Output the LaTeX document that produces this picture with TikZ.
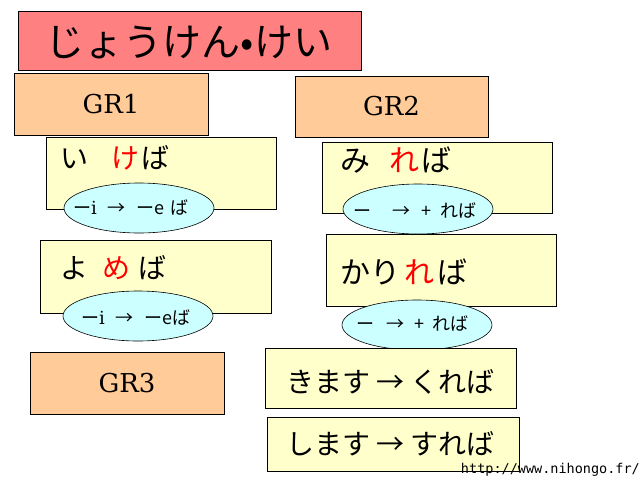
\documentclass[tikz,border=0pt]{standalone}
\usepackage{fontspec}
\usetikzlibrary{shapes.geometric}
\setmainfont{DejaVu Serif}
\newfontfamily\jp{Noto Sans CJK JP}
\newfontfamily\urlfont{DejaVu Sans Mono}
\definecolor{titlec}{HTML}{FF8080}
\definecolor{grc}{HTML}{FFCC99}
\definecolor{yelc}{HTML}{FFFFCC}
\definecolor{cyanc}{HTML}{CCFFFF}
\begin{document}
\begin{tikzpicture}[x=1pt,y=-1pt,
  box/.style={draw=black,line width=0.9pt,inner sep=0pt,rectangle},
  titlebox/.style={box,fill=titlec},
  grbox/.style={box,fill=grc},
  ybox/.style={box,fill=yelc},
  oval/.style={draw=black,line width=0.6pt,ellipse,fill=cyanc,minimum width=150pt,minimum height=50pt,inner sep=0pt},
  big/.style={font=\jp\fontsize{28}{30}\selectfont,anchor=west,inner sep=0pt},
  bigger/.style={font=\jp\fontsize{30}{32}\selectfont,anchor=west,inner sep=0pt},
  small/.style={font=\jp\fontsize{18}{20}\selectfont,anchor=west,inner sep=0pt},
  grtext/.style={font=\fontsize{26}{28}\selectfont,inner sep=0pt}]
\useasboundingbox (0,0) rectangle (640,480);
% title
\node[titlebox,minimum width=343pt,minimum height=59pt] (title) at (189.5,40.5) {};
\node[font=\jp\fontsize{39}{40}\selectfont,inner sep=0pt] (titlet) at (189,42) {じょうけん•けい};
% group boxes
\node[grbox,minimum width=194pt,minimum height=62pt] (gr1) at (111,104) {};
\node[grtext] (gr1t) at (111,104) {GR1};
\node[grbox,minimum width=193pt,minimum height=61pt] (gr2) at (391.5,106.5) {};
\node[grtext] (gr2t) at (391.5,106.5) {GR2};
\node[grbox,minimum width=194pt,minimum height=62pt] (gr3) at (127,383) {};
\node[grtext] (gr3t) at (127,383) {GR3};
% GR1 examples
\node[ybox,minimum width=230pt,minimum height=72pt] (b1) at (161,173) {};
\node[big] (b1t) at (60,158) {い\hspace{23pt}{\color{red}け}\hspace{2pt}ば};
\node[ybox,minimum width=231pt,minimum height=73pt] (b2) at (155.5,276.5) {};
\node[big] (b2t) at (60,268) {よ\hspace{14pt}{\color{red}め}\hspace{8pt}ば};
\node[oval] (e1) at (139,208) {};
\node[small] (e1t) at (73,208) {ー{\rmfamily i}\hspace{11pt}→\hspace{11pt}ーe\hspace{6pt}ば};
\node[oval] (e2) at (138,316) {};
\node[small] (e2t) at (81,318) {ー{\rmfamily i}\hspace{11pt}→\hspace{11pt}ーeば};
% GR2 examples
\node[ybox,minimum width=230pt,minimum height=71pt] (b3) at (437,177.5) {};
\node[bigger] (b3t) at (340,160) {み\hspace{19pt}{\color{red}れ}\hspace{2pt}ば};
\node[ybox,minimum width=230pt,minimum height=72pt] (b4) at (441,270) {};
\node[bigger] (b4t) at (340,272) {かり\hspace{4pt}{\color{red}れ}\hspace{3pt}ば};
\node[oval] (e3) at (418,209) {};
\node[small] (e3t) at (353,211) {ー\hspace{21pt}→\hspace{11pt}+\hspace{9pt}れば};
\node[oval] (e4) at (417,325) {};
\node[small] (e4t) at (356,324) {ー\hspace{12pt}→\hspace{10pt}+\hspace{8pt}れば};
% GR3 examples
\node[ybox,minimum width=251pt,minimum height=60pt] (b5) at (390.5,378) {};
\node[big] (b5t) at (286,382) {きます → くれば};
\node[ybox,minimum width=252pt,minimum height=54pt] (b6) at (393,444) {};
\node[big] (b6t) at (286,444) {します → すれば};
% url
\node[font=\urlfont\fontsize{13.5}{14}\selectfont,anchor=east,inner sep=0pt] (url) at (640,470) {http://www.nihongo.fr/};
\end{tikzpicture}
\end{document}
